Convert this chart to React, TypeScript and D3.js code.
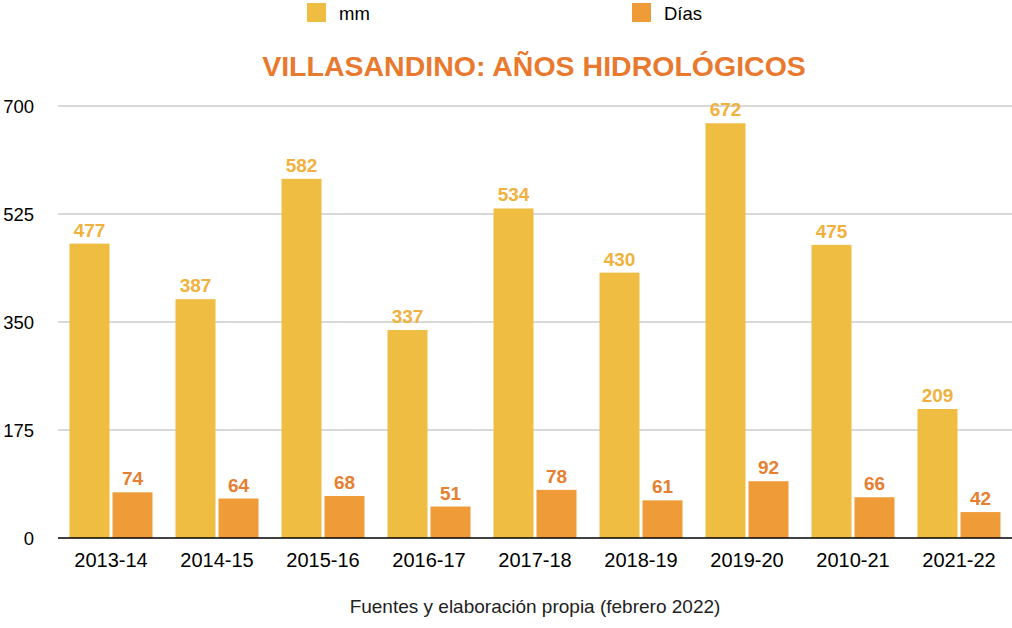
import React from 'react';
import * as d3 from 'd3';

const years = ['2013-14', '2014-15', '2015-16', '2016-17', '2017-18', '2018-19', '2019-20', '2010-21', '2021-22'];
const mm = [477, 387, 582, 337, 534, 430, 672, 475, 209];
const dias = [74, 64, 68, 51, 78, 61, 92, 66, 42];
const yTicks = [0, 175, 350, 525, 700];

const W = 1012;
const H = 628;
const margin = { left: 58, right: 0, top: 105, bottom: 90 };
const FONT = '"Liberation Sans", Arial, Helvetica, sans-serif';

const MM_COLOR = '#eebd42';
const DIAS_COLOR = '#ef9b38';
const MM_LABEL = '#f0b13d';
const DIAS_LABEL = '#e67f30';
const TITLE_COLOR = '#e8792e';

const App: React.FC = () => {
  const x = d3.scaleBand<string>().domain(years).range([margin.left, W - margin.right]).paddingInner(0).paddingOuter(0);
  const y = d3.scaleLinear().domain([0, 700]).range([538, 106]);
  const bw = 40;
  const gap = 3;
  const inset = (x.bandwidth() - 2 * bw - gap) / 2;

  return (
    <svg width={W} height={H} style={{ position: 'absolute', left: 0, top: 0, fontFamily: FONT }}>
      {/* legend */}
      <rect x={307} y={3} width={19} height={19} fill={MM_COLOR} />
      <text x={339} y={20} fontSize={18.5} fill="#000">mm</text>
      <rect x={632} y={3} width={19} height={19} fill={DIAS_COLOR} />
      <text x={664} y={20} fontSize={18.5} fill="#000">Días</text>

      <text x={534} y={76} textAnchor="middle" fontSize={28.5} fontWeight="bold" fill={TITLE_COLOR}>
        VILLASANDINO: AÑOS HIDROLÓGICOS
      </text>

      {/* grid */}
      {yTicks.filter(t => t > 0).map(t => (
        <line key={t} x1={margin.left} x2={W} y1={y(t)} y2={y(t)} stroke="#b3b3b3" strokeWidth={1} />
      ))}
      {yTicks.map(t => (
        <text key={'l' + t} x={34} y={y(t) + 7} textAnchor="end" fontSize={18.5} fill="#000">{t}</text>
      ))}

      {years.map((yr, i) => {
        const x0 = (x(yr) ?? 0) + inset;
        const x1 = x0 + bw + gap;
        return (
          <g key={yr}>
            <rect x={x0} y={y(mm[i])} width={bw} height={y(0) - y(mm[i])} fill={MM_COLOR} />
            <rect x={x1} y={y(dias[i])} width={bw} height={y(0) - y(dias[i])} fill={DIAS_COLOR} />
            <text x={x0 + bw / 2} y={y(mm[i]) - 7} textAnchor="middle" fontSize={19} fontWeight="bold" fill={MM_LABEL}>{mm[i]}</text>
            <text x={x1 + bw / 2} y={y(dias[i]) - 7} textAnchor="middle" fontSize={19} fontWeight="bold" fill={DIAS_LABEL}>{dias[i]}</text>
            <text x={(x(yr) ?? 0) + x.bandwidth() / 2} y={567} textAnchor="middle" fontSize={20} fill="#000">{yr}</text>
          </g>
        );
      })}

      <line x1={margin.left} x2={W} y1={y(0)} y2={y(0)} stroke="#000" strokeWidth={1.6} />

      <text x={535} y={613} textAnchor="middle" fontSize={19} fill="#222">Fuentes y elaboración propia (febrero 2022)</text>
    </svg>
  );
};

export default App;
